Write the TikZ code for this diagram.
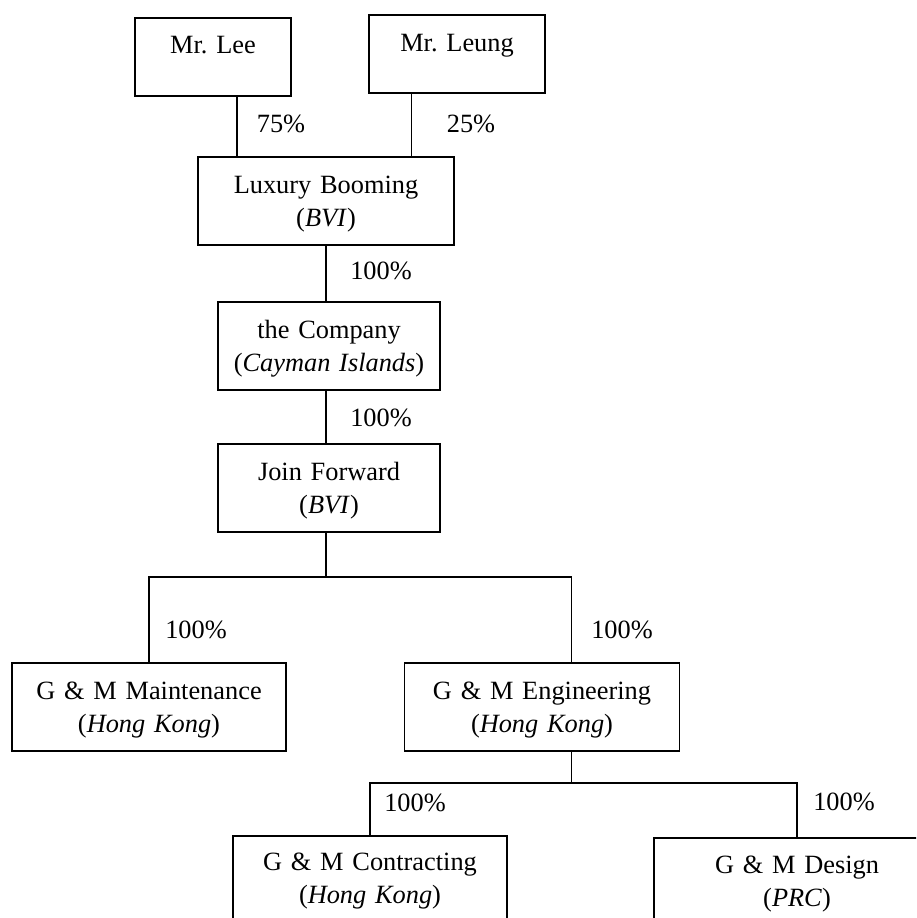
\documentclass[tikz,border=0pt]{standalone}
\usepackage{fontspec}
\setmainfont{Liberation Serif}
\usetikzlibrary{calc}

\begin{document}
\begin{tikzpicture}[x=0.02cm, y=-0.02cm, line width=1pt,
  every node/.style={font=\fontsize{15}{18.5}\selectfont},
  firm/.style={draw, inner sep=0pt, align=center, anchor=north, text height=0.74cm, text depth=1.02cm},
  share/.style={inner sep=0pt}]

% the page
\clip (0,0) rectangle (916,918);

% the owners
\node[firm, text width=3.12cm, text height=0.72cm, text depth=0.84cm] (lee) at (213,17) {Mr.\ Lee};
\node[firm, text width=3.52cm, text height=0.74cm, text depth=0.82cm] (leung) at (457,14) {Mr.\ Leung};

% the holding chain
\node[firm, text width=5.12cm] (lux) at (326,156) {Luxury Booming\\(\textit{BVI})};
\node[firm, text width=4.44cm] (comp) at (329,301) {the Company\\(\textit{Cayman Islands})};
\node[firm, text width=4.44cm] (join) at (329,443) {Join Forward\\(\textit{BVI})};

% the subsidiaries
\node[firm, text width=5.48cm] (maint) at (149,662) {G \& M Maintenance\\(\textit{Hong Kong})};
\node[firm, text width=5.5cm] (eng) at (542,662) {G \& M Engineering\\(\textit{Hong Kong})};
\node[firm, text width=5.48cm, text height=0.7cm] (contr) at (370,835) {G \& M Contracting\\(\textit{Hong Kong})};
\node[firm, text width=5.72cm, text height=0.72cm] (design) at (797,837) {G \& M Design\\(\textit{PRC})};

% the lines
\coordinate (leefoot) at ($(lee.south west)!0.65!(lee.south east)$);
\coordinate (leungfoot) at ($(leung.south west)!0.244!(leung.south east)$);
\draw (leefoot) -- (leefoot |- lux.north);
\draw (leungfoot) -- (leungfoot |- lux.north);
\draw (lux.south) -- (lux.south |- comp.north);
\draw (comp.south -| lux.south) -- (join.north -| lux.south);

\coordinate (fork) at ($(join.south -| lux.south) + (0,44)$);
\coordinate (engtop) at ($(eng.north west)!0.607!(eng.north east)$);
\draw (join.south -| lux.south) -- (fork);
\draw (maint.north) -- (maint.north |- fork) -- (engtop |- fork) -- (engtop);

\coordinate (engfoot) at ($(eng.south west)!0.607!(eng.south east)$);
\coordinate (fork2) at ($(engfoot) + (0,31)$);
\draw (engfoot) -- (fork2);
\draw (contr.north) -- (contr.north |- fork2) -- (design.north |- fork2) -- (design.north);

% the shares
\node[share] (p75) at (281,124) {75\%};
\node[share] (p25) at (471,124) {25\%};
\node[share] (plux) at (381,271) {100\%};
\node[share] (pcomp) at (381,418) {100\%};
\node[share] (pmaint) at (196,630) {100\%};
\node[share] (peng) at (622,630) {100\%};
\node[share] (pcontr) at (415,803) {100\%};
\node[share] (pdesign) at (844,802) {100\%};

\end{tikzpicture}
\end{document}
